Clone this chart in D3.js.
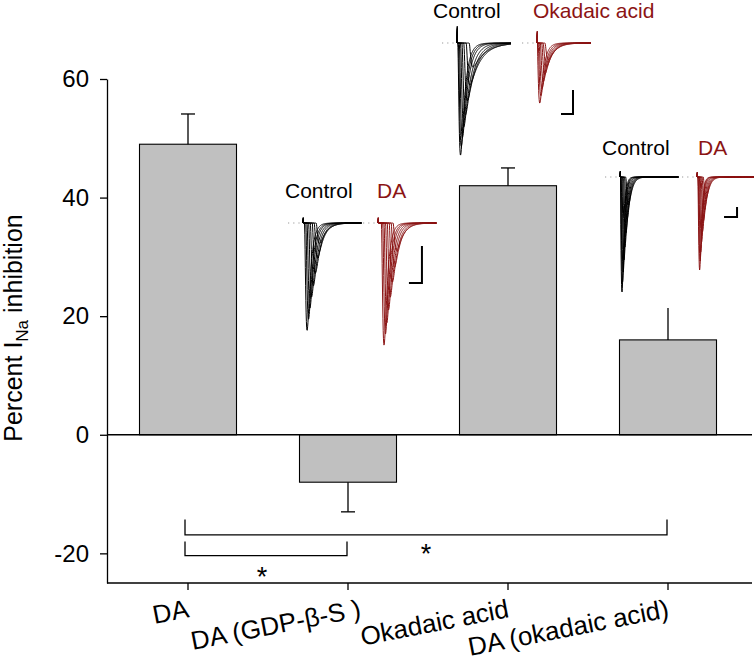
<!DOCTYPE html>
<html><head><meta charset="utf-8">
<script src="https://cdn.jsdelivr.net/npm/d3@7"></script>
<style>
html,body{margin:0;padding:0;background:#fff;}
svg{display:block;font-family:"Liberation Sans",Arial,Helvetica,sans-serif;}
</style></head>
<body>
<svg id="c" width="754" height="668"></svg>
<script>
// ---------- data ----------
const categories = ["DA", "DA (GDP-\u03B2-S )", "Okadaic acid", "DA (okadaic acid)"];
const means = [49, -8, 42, 16];
const sems = [5.1, 5.0, 3.0, 5.6];
const yTicks = [-20, 0, 20, 40, 60];
// significance brackets: [fromIndex, toIndex, lineValue, endValue, starValue]
const brackets = [[0, 3, -16.9, -14.3, -19.1], [0, 1, -20.4, -18.0, -22.9]];

// inset current traces: [peak (nA), delay (ms), inactivation tau (ms)]
const okaCtrl = [[-4.67,0.05,0.35],[-4.3,0.1,0.4],[-3.95,0.18,0.45],[-3.5,0.28,0.55],[-3.0,0.4,0.65],[-2.4,0.55,0.75],[-1.75,0.75,0.9],[-1.0,1.0,1.0]];
const okaDrug = [[-2.5,0.0,0.3],[-2.2,0.08,0.35],[-1.9,0.16,0.4],[-1.6,0.26,0.45],[-1.3,0.38,0.5],[-1.0,0.5,0.55],[-0.7,0.65,0.6]];
const gdpCtrl = [[-2.9,0.1,0.25],[-2.6,0.2,0.28],[-2.3,0.3,0.3],[-2.0,0.42,0.33],[-1.7,0.55,0.36],[-1.35,0.7,0.4],[-0.95,0.85,0.45],[-0.55,1.0,0.5]];
const gdpDrug = [[-3.3,0.25,0.25],[-3.0,0.35,0.28],[-2.7,0.45,0.3],[-2.35,0.57,0.33],[-2.0,0.7,0.36],[-1.6,0.85,0.4],[-1.2,1.0,0.45],[-0.75,1.15,0.5]];
const daoCtrl = [[-11.5,0.0,0.12],[-10.5,0.04,0.13],[-9.5,0.08,0.14],[-8.3,0.13,0.16],[-7.0,0.19,0.18],[-5.6,0.26,0.2],[-4.2,0.34,0.22],[-2.8,0.43,0.25]];
const daoDrug = [[-9.3,0.05,0.12],[-8.4,0.08,0.13],[-7.5,0.12,0.14],[-6.5,0.17,0.16],[-5.5,0.23,0.18],[-4.4,0.3,0.2],[-3.3,0.38,0.22],[-2.2,0.47,0.25]];
const traceMs = 4.5;      // sweep length (ms)
const activationTau = 0.1; // ms

// ---------- layout ----------
const svg = d3.select("#c");
const W = 754, H = 668;
const x = d3.scaleBand().domain(d3.range(categories.length)).range([108, 748])
  .paddingInner(0.39375).paddingOuter(0.196875);
const y = d3.scaleLinear().domain([-25, 60]).range([583, 79]);
const red = "#8b1414";
const sw = 1.3;

// bars
svg.append("g").selectAll("rect").data(means).join("rect")
  .attr("x", (d,i) => x(i))
  .attr("width", x.bandwidth())
  .attr("y", d => y(Math.max(0, d)))
  .attr("height", d => Math.abs(y(d) - y(0)))
  .attr("fill", "#c0c0c0").attr("stroke", "#000").attr("stroke-width", 1.1);

// error bars
const eb = svg.append("g").attr("stroke", "#000").attr("stroke-width", sw).attr("fill", "none");
means.forEach((m, i) => {
  const cx = x(i) + x.bandwidth()/2;
  const end = m >= 0 ? m + sems[i] : m - sems[i];
  eb.append("line").attr("x1", cx).attr("x2", cx).attr("y1", y(m)).attr("y2", y(end));
  eb.append("line").attr("x1", cx - 7).attr("x2", cx + 7).attr("y1", y(end)).attr("y2", y(end));
});

// zero line
svg.append("line").attr("x1", 107).attr("x2", 752).attr("y1", y(0)).attr("y2", y(0))
  .attr("stroke", "#000").attr("stroke-width", sw);

// y axis
const ya = svg.append("g").attr("transform", "translate(107,0)")
  .call(d3.axisLeft(y).tickValues(yTicks).tickSizeInner(7).tickSizeOuter(0).tickPadding(11).tickFormat(d => String(d)));
ya.selectAll("path,line").attr("stroke", "#000").attr("stroke-width", sw);
ya.selectAll("text").attr("font-size", 24).attr("fill", "#000").attr("font-family", "Liberation Sans, Arial, sans-serif");

// x axis
const xa = svg.append("g").attr("transform", "translate(0,583)")
  .call(d3.axisBottom(x).tickSizeInner(7).tickSizeOuter(0).tickFormat(""));
xa.select(".domain").remove();
xa.selectAll("line").attr("stroke", "#000").attr("stroke-width", sw);
svg.append("line").attr("x1", 107).attr("x2", 752).attr("y1", 583).attr("y2", 583)
  .attr("stroke", "#000").attr("stroke-width", sw);
svg.append("g").selectAll("text").data(categories).join("text")
  .attr("transform", (d,i) => `translate(${x(i) + x.bandwidth()/2 + (d.includes("\u03B2") ? 14 : 2)},617) rotate(-11)`)
  .attr("text-anchor", "end").attr("font-size", 26).attr("fill", "#000")
  .text(d => d);

// y title
const yt = svg.append("text").attr("transform", "translate(22,328) rotate(-90)")
  .attr("text-anchor", "middle").attr("font-size", 25).attr("fill", "#000");
yt.append("tspan").text("Percent I");
yt.append("tspan").attr("font-size", 17).attr("dy", 6).text("Na");
yt.append("tspan").attr("dy", -6).text(" inhibition");

// brackets
const bg = svg.append("g").attr("fill", "none").attr("stroke", "#000").attr("stroke-width", sw);
brackets.forEach(b => {
  const x1 = x(b[0]) + x.bandwidth()/2 - 3, x2 = x(b[1]) + x.bandwidth()/2 - 1;
  bg.append("path").attr("d", `M${x1},${y(b[3])}V${y(b[2])}H${x2}V${y(b[3])}`);
  svg.append("text").attr("x", (x1 + x2)/2 - (b[1] === 1 ? 4 : 0)).attr("y", y(b[4]) + 15)
    .attr("text-anchor", "middle").attr("font-size", 27).attr("fill", "#000").text("*");
});

// ---------- insets ----------
function traceValues(tr) {
  const [peak, delay, th] = tr;
  const ts = d3.range(0, traceMs + 1e-9, 0.02);
  const g = ts.map(t => t <= delay ? 0 : Math.pow(1 - Math.exp(-(t - delay)/activationTau), 3) * Math.exp(-(t - delay)/th));
  const gmax = d3.max(g);
  return ts.map((t, k) => [t, peak * g[k] / gmax]);
}
function drawFamily(g, fam, x0, y0, pxMs, pxNa, color, artifact) {
  const sx = d3.scaleLinear().domain([0, traceMs]).range([x0, x0 + traceMs * pxMs]);
  const sy = d3.scaleLinear().domain([0, 1]).range([y0, y0 - pxNa]);
  g.append("line").attr("x1", x0 - 15).attr("x2", x0 - 1).attr("y1", y0).attr("y2", y0)
    .attr("stroke", "#999").attr("stroke-width", 1.2).attr("stroke-dasharray", "1.2,4");
  const line = d3.line().x(d => sx(d[0])).y(d => sy(d[1]));
  fam.forEach((tr, i) => {
    const vals = traceValues(tr);
    const pts = [[0, 0], [0.02, artifact * (1 - i*0.08)], [0.04, 0]].concat(vals.slice(3));
    g.append("path").attr("d", line(pts)).attr("fill", "none")
      .attr("stroke", color).attr("stroke-width", 1).attr("stroke-linejoin", "round");
  });
  return {sx, sy};
}
function scaleBar(g, s, tMs, vNa) {
  g.append("path").attr("d", `M${s.sx(tMs - 1)},${s.sy(vNa)}H${s.sx(tMs)}V${s.sy(vNa + 1)}`)
    .attr("fill", "none").attr("stroke", "#000").attr("stroke-width", 2);
}
function label(g, txt, xx, yy, color) {
  g.append("text").attr("x", xx).attr("y", yy).attr("font-size", 21).attr("fill", color).text(txt);
}

// middle inset (GDP-beta-S)
const g1 = svg.append("g");
label(g1, "Control", 285, 198, "#000");
label(g1, "DA", 377, 198, red);
drawFamily(g1, gdpCtrl, 303, 223, 13, 37, "#000", 0.15);
const s1 = drawFamily(g1, gdpDrug, 378, 223, 13, 37, red, 0.15);
scaleBar(g1, s1, 3.38, -1.62);

// top inset (okadaic acid)
const g2 = svg.append("g");
label(g2, "Control", 433, 18, "#000");
label(g2, "Okadaic acid", 533, 18, red);
drawFamily(g2, okaCtrl, 457, 43, 12, 24, "#000", 0.7);
const s2 = drawFamily(g2, okaDrug, 537, 43, 12, 24, red, 0.5);
scaleBar(g2, s2, 3.0, -2.96);

// right inset (DA in okadaic acid)
const g3 = svg.append("g");
g3.append("rect").attr("x", 598).attr("y", 120).attr("width", W - 598).attr("height", 188).attr("fill", "#fff");
label(g3, "Control", 602, 155, "#000");
label(g3, "DA", 698, 155, red);
drawFamily(g3, daoCtrl, 620, 177, 13, 10, "#000", 0.6);
const s3 = drawFamily(g3, daoDrug, 697, 177, 13, 10, red, 0.5);
scaleBar(g3, s3, 3.08, -4);
</script>
</body></html>
